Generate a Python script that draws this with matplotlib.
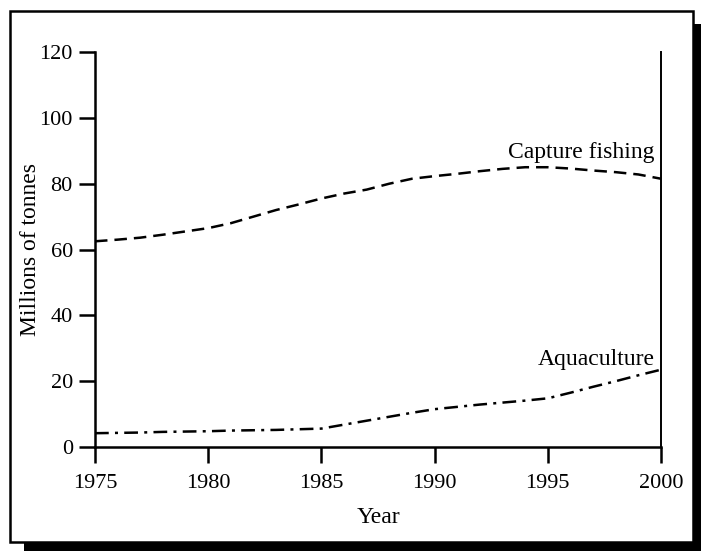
import matplotlib.pyplot as plt
from matplotlib.patches import Rectangle

plt.rcParams['font.family'] = ['Liberation Serif', 'DejaVu Serif']

years = list(range(1975, 2001))
capture = [62.5, 63.0, 63.6, 64.5, 65.5, 66.5, 68.0, 70.0, 72.0, 73.7, 75.5,
           77.0, 78.2, 80.0, 81.5, 82.3, 83.0, 83.8, 84.5, 85.0, 85.0,
           84.6, 84.0, 83.5, 82.8, 81.5]
aqua = [4.2, 4.3, 4.4, 4.6, 4.7, 4.8, 5.0, 5.1, 5.2, 5.4, 5.6,
        6.8, 8.0, 9.2, 10.4, 11.5, 12.2, 12.9, 13.5, 14.1, 14.8,
        16.5, 18.3, 20.0, 21.8, 23.5]

xticks = [1975, 1980, 1985, 1990, 1995, 2000]
yticks = [0, 20, 40, 60, 80, 100, 120]

fig = plt.figure(figsize=(7.01, 5.51), dpi=100)

# shadow and frame behind the axes
fig.patches.append(Rectangle((0.034, -0.05), 1.0, 0.956 + 0.05,
                             transform=fig.transFigure, facecolor='black',
                             edgecolor='none', zorder=-3))
fig.patches.append(Rectangle((0.0143, 0.0155), 0.9886 - 0.0143, 0.980 - 0.0155,
                             transform=fig.transFigure, facecolor='white',
                             edgecolor='black', linewidth=1.8, zorder=-2))

ax = fig.add_axes([0.1355, 0.1887, 0.943 - 0.1355, 0.9056 - 0.1887])
ax.set_facecolor('none')
ax.set_zorder(1)

ax.plot(years, capture, color='black', lw=1.8, dashes=(5, 2.8))
ax.plot(years, aqua, color='black', lw=1.8, dashes=(5.5, 2.5, 1.2, 2.5))

ax.text(1999.73, 87.8, 'Capture fishing', ha='right', va='baseline', fontsize=17)
ax.text(1999.73, 24.9, 'Aquaculture', ha='right', va='baseline', fontsize=17)

ax.set_xlim(1975, 2000)
ax.set_ylim(0, 120)
ax.set_xticks(xticks)
ax.set_yticks(yticks)
ax.tick_params(direction='out', length=11.5, width=1.8, labelsize=16, pad=4.5)
ax.tick_params(axis='x', pad=8)

ax.spines['top'].set_visible(False)
for s in ['left', 'bottom']:
    ax.spines[s].set_linewidth(1.8)
ax.spines['right'].set_linewidth(1.4)

ax.set_xlabel('Year', fontsize=17, labelpad=10)
ax.set_ylabel('Millions of tonnes', fontsize=17, labelpad=-1)

fig.savefig('out.png', dpi=100)
